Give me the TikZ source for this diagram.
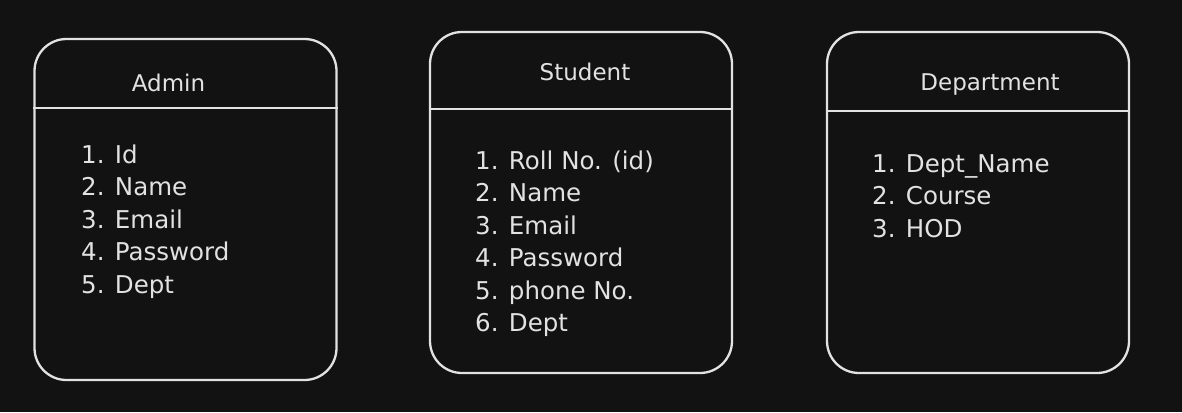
\documentclass[tikz,border=0pt]{standalone}
\usepackage{fontspec}
\setmainfont{DejaVu Sans}
\usepackage{xcolor}
\usetikzlibrary{positioning}

\definecolor{bgdark}{HTML}{121212}
\definecolor{chalk}{HTML}{E2E2E2}

\begin{document}
\begin{tikzpicture}[
    x=1pt, y=-1pt,
    entity/.style={draw=chalk, line width=2.3pt, rounded corners=32pt,
        minimum width=302pt, minimum height=341pt, inner sep=0pt},
    divider/.style={draw=chalk, line width=2.8pt},
    title/.style={text=chalk, anchor=base, inner sep=0pt,
        font=\fontsize{23}{28}\selectfont},
    field/.style={text=chalk, anchor=base west, inner sep=0pt,
        font=\fontsize{24.5}{30}\selectfont}
]

% Background
\fill[bgdark] (0,0) rectangle (1182,412);

% Entity boxes
\node[entity] (admin) at (185.5,209.5) {};
\node[entity] (student) at (581,202.5) {};
\node[entity] (dept) at (978,202.5) {};

% Header dividers
\draw[divider] (admin.west |- 0,108) -- (admin.east |- 0,108);
\draw[divider] (student.west |- 0,109) -- (student.east |- 0,109);
\draw[divider] (dept.west |- 0,111) -- (dept.east |- 0,111);

% Titles
\node[title] (adminT) at (168.5,91) {Admin};
\node[title] (studentT) at (585,81) {Student};
\node[title] (deptT) at (990,90) {Department};

% Fields
\foreach \txt [count=\i] in {{Id}, {Name}, {Email}, {Password}, {Dept}}
    \node[field] (admin-\i) at (81,130.5+32.5*\i) {\i. \txt};
\foreach \txt [count=\i] in {{Roll No. (id)}, {Name}, {Email}, {Password}, {phone No.}, {Dept}}
    \node[field] (student-\i) at (475,136.5+32.5*\i) {\i. \txt};
\foreach \txt [count=\i] in {{Dept\_Name}, {Course}, {HOD}}
    \node[field] (dept-\i) at (872,139.5+32.5*\i) {\i. \txt};

\end{tikzpicture}
\end{document}
